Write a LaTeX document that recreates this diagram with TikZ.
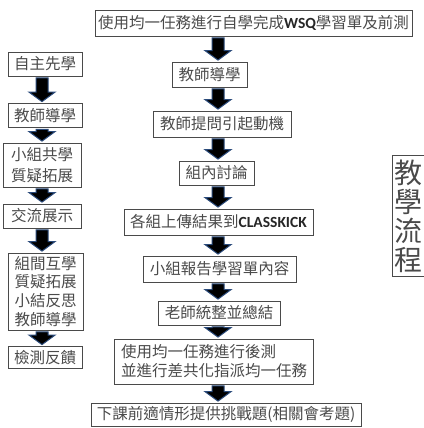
\documentclass[tikz,border=0pt]{standalone}
\usepackage{fontspec}
\setmainfont{Noto Sans CJK TC}
\newfontfamily\latfont{Carlito}
\usetikzlibrary{calc}
\definecolor{boxgray}{HTML}{4A4A4A}
\definecolor{arrowblue}{HTML}{2A4A7A}
\definecolor{txt}{HTML}{4A4A4A}
\newcommand\blockarr[3]{%
  \path let \p1=(#1.south -| #3), \p2=(#2.north -| #3) in
    [draw=arrowblue, fill=black, line width=1pt, line join=miter]
    (\x1-6pt,\y1-1.5pt) -- (\x1+6pt,\y1-1.5pt) -- (\x1+6pt,\y2+11pt)
    -- (\x1+13pt,\y2+11pt) -- (\x1,\y2+1.5pt) -- (\x1-13pt,\y2+11pt)
    -- (\x1-6pt,\y2+11pt) -- cycle;}
\begin{document}
\begin{tikzpicture}[x=1pt,y=-1pt,
  box/.style={draw=boxgray, line width=0.75pt, inner sep=0pt, align=center,
    text=txt, font=\fontsize{15.5}{19}\selectfont},
]
\useasboundingbox (0,0) rectangle (423,428);
\coordinate (colC) at (218,0);
\coordinate (colL) at (42,0);
% center column
\node[box, minimum width=317pt, minimum height=26pt] (top) at (253.5,23) {使用均一任務進行自學完成{\latfont\bfseries\color{black!85} WSQ}學習單及前測};
\node[box, minimum width=75pt, minimum height=25pt] (c1) at (209.5,74.5) {教師導學};
\node[box, minimum width=138pt, minimum height=26pt] (c2) at (222,124) {教師提問引起動機};
\node[box, minimum width=75pt, minimum height=24pt] (c3) at (216.5,173) {組內討論};
\node[box, minimum width=189pt, minimum height=26pt] (c4) at (218.5,222) {各組上傳結果到{\latfont\bfseries\color{black!85} CLASSKICK}};
\node[box, minimum width=153pt, minimum height=26pt] (c5) at (219.5,269) {小組報告學習單內容};
\node[box, minimum width=122pt, minimum height=24pt] (c6) at (219,313) {老師統整並總結};
\node[box, minimum width=199pt, minimum height=45pt, align=left, text width=185pt, inner xsep=7pt] (c7) at (213.5,361.5) {使用均一任務進行後測\\並進行差共化指派均一任務};
\node[box, minimum width=270pt, minimum height=23pt] (c8) at (226,414.5) {下課前適情形提供挑戰題(相關會考題)};
% left column
\node[box, minimum width=74pt, minimum height=24pt] (l1) at (45,64) {自主先學};
\node[box, minimum width=74pt, minimum height=24pt] (l2) at (45,115.5) {教師導學};
\node[box, minimum width=78pt, minimum height=44pt, font=\fontsize{15.5}{20.5}\selectfont] (l3) at (42,165) {小組共學\\質疑拓展};
\node[box, minimum width=78pt, minimum height=24pt] (l4) at (42,216) {交流展示};
\node[box, minimum width=75pt, minimum height=77pt, font=\fontsize{15.5}{18.8}\selectfont] (l5) at (45.5,291.5) {組間互學\\質疑拓展\\小結反思\\教師導學};
\node[box, minimum width=74pt, minimum height=22pt] (l6) at (45,357.5) {檢測反饋};
% right title
\node[box, minimum width=40pt, minimum height=121pt, anchor=north west] (ttl) at (392,155) {};
\node[text=txt, font=\fontsize{28}{29}\selectfont, align=center, inner sep=0pt] (ttltext) at (408,216) {教\\學\\流\\程};
% arrows
\blockarr{top}{c1}{colC}
\blockarr{c1}{c2}{colC}
\blockarr{c2}{c3}{colC}
\blockarr{c3}{c4}{colC}
\blockarr{c4}{c5}{colC}
\blockarr{c5}{c6}{colC}
\blockarr{c6}{c7}{colC}
\blockarr{c7}{c8}{colC}
\blockarr{l1}{l2}{colL}
\blockarr{l2}{l3}{colL}
\blockarr{l3}{l4}{colL}
\blockarr{l4}{l5}{colL}
\blockarr{l5}{l6}{colL}
\end{tikzpicture}
\end{document}
